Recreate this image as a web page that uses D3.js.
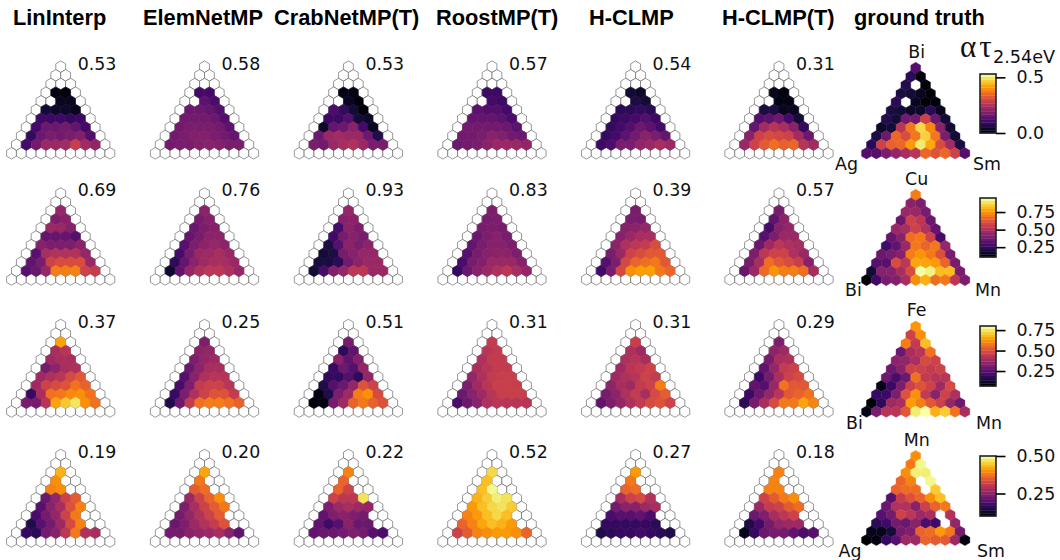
<!DOCTYPE html>
<html>
<head>
<meta charset="utf-8">
<script src="https://cdn.jsdelivr.net/npm/d3@7"></script>
<style>
  body { margin: 0; background: #fff; }
  svg { display: block; }
  .title { font-family: "Liberation Sans", sans-serif; font-weight: bold; font-size: 21.8px; }
  .score, .elem, .cbar text { font-family: "DejaVu Sans", sans-serif; font-size: 17.4px; fill: #111; }
</style>
</head>
<body>
<script>
// all cell values are alpha*tau x 100. _ = no data (white)
const _ = null;

const methods = ["LinInterp", "ElemNetMP", "CrabNetMP(T)", "RoostMP(T)", "H-CLMP", "H-CLMP(T)"];
const groundTruthTitle = "ground truth";

const scoresAgBiSm = ["0.53", "0.58", "0.53", "0.57", "0.54", "0.31"];
const scoresBiCuMn = ["0.69", "0.76", "0.93", "0.83", "0.39", "0.57"];
const scoresBiFeMn = ["0.37", "0.25", "0.51", "0.31", "0.31", "0.29"];
const scoresAgMnSm = ["0.19", "0.20", "0.22", "0.52", "0.27", "0.18"];

// predictions: inner cells of triangle rows 2..9
const agBiSmLinInterp = [[_], [2, 1], [_, 3, 3], [5, 4, 4, 3], [10, 10, 10, 9, 10], [11, 16, 16, 17, 15, 11], [9, 16, 18, 17, 18, 19, 13], [11, 17, 22, 22, 23, 28, 23, 21]];
const agBiSmElemNet = [[_], [11, 11], [_, 14, 12], [16, 16, 15, 13], [17, 17, 17, 16, 13], [17, 18, 18, 18, 17, 14], [17, 18, 19, 19, 18, 17, 15], [17, 18, 18, 19, 20, 19, 18, 18]];
const agBiSmCrabNet = [[_], [2, 2], [_, 3, 1], [12, 9, 5, 1], [10, 10, 13, 5, 4], [4, 15, 16, 20, 11, 3], [16, 22, 23, 22, 22, 16, 7], [18, 17, 22, 24, 25, 22, 18, 18]];
const agBiSmRoost = [[_], [10, 10], [_, 11, 10], [14, 13, 13, 11], [15, 15, 15, 14, 12], [17, 17, 17, 17, 16, 14], [17, 17, 18, 20, 19, 17, 16], [16, 17, 18, 20, 22, 22, 22, 21]];
const agBiSmHclmp = [[_], [5, 4], [_, 6, 5], [8, 8, 9, 8], [9, 10, 11, 13, 10], [9, 11, 13, 16, 14, 11], [9, 11, 14, 17, 20, 18, 15], [10, 12, 18, 18, 21, 22, 24, 22]];
const agBiSmHclmpT = [[_], [3, 1], [_, 2, 2], [6, 6, 3, 3], [13, 14, 16, 11, 5], [15, 23, 26, 24, 20, 9], [20, 29, 31, 30, 29, 23, 16], [22, 29, 33, 36, 34, 35, 26, 23]];

const biCuMnLinInterp = [[45], [40, 42], [46, 46, 42], [35, 35, 35, 32], [42, 40, 40, 40, 43], [32, 49, 51, 51, 51, 45], [34, 39, 57, 60, 60, 60, 46], [32, 36, 45, 71, 71, 72, 57, 55]];
const biCuMnElemNet = [[43], [39, 42], [36, 40, 42], [35, 39, 43, 43], [32, 40, 43, 45, 43], [29, 39, 46, 47, 49, 46], [24, 35, 43, 47, 49, 49, 46], [18, 34, 45, 50, 53, 53, 50, 45]];
const biCuMnCrabNet = [[45], [42, 43], [29, 43, 40], [28, 39, 42, 39], [21, 32, 43, 40, 43], [19, 21, 39, 42, 45, 45], [20, 20, 24, 38, 43, 46, 46], [19, 29, 41, 45, 53, 53, 46, 46]];
const biCuMnRoost = [[40], [39, 40], [39, 40, 39], [36, 40, 42, 39], [35, 39, 42, 42, 40], [32, 39, 42, 43, 43, 40], [30, 39, 41, 46, 46, 46, 42], [26, 36, 42, 46, 50, 53, 49, 45]];
const biCuMnHclmp = [[39], [39, 39], [42, 43, 45], [42, 46, 49, 49], [43, 50, 53, 55, 60], [39, 46, 57, 60, 63, 63], [32, 40, 59, 66, 68, 70, 63], [28, 39, 59, 74, 77, 77, 70, 66]];
const biCuMnHclmpT = [[39], [34, 43], [29, 42, 45], [32, 40, 46, 46], [36, 47, 53, 50, 49], [40, 53, 57, 57, 50, 46], [39, 49, 68, 63, 60, 56, 42], [36, 46, 67, 75, 71, 71, 68, 49]];

const biFeMnLinInterp = [[65], [40, 43], [38, 40, 40], [31, 35, 40, 41], [38, 41, 43, 49, 52], [38, 47, 49, 51, 57, 54], [20, 40, 57, 58, 61, 62, 57], [31, 31, 43, 65, 70, 75, 62, 57]];
const biFeMnElemNet = [[32], [35, 36], [32, 36, 38], [29, 35, 40, 40], [25, 34, 41, 43, 42], [23, 32, 45, 47, 47, 43], [20, 32, 41, 47, 51, 51, 45], [16, 29, 45, 57, 59, 59, 57, 54]];
const biFeMnCrabNet = [[31], [18, 27], [34, 27, 33], [20, 29, 25, 36], [19, 19, 25, 18, 36], [16, 25, 29, 36, 51, 47], [9, 16, 32, 38, 59, 62, 49], [8, 9, 31, 38, 54, 58, 54, 51]];
const biFeMnRoost = [[45], [43, 45], [41, 45, 45], [40, 43, 45, 45], [36, 41, 45, 46, 46], [32, 38, 43, 46, 46, 46], [29, 34, 38, 43, 46, 46, 46], [23, 29, 34, 41, 43, 43, 43, 43]];
const biFeMnHclmp = [[46], [41, 38], [41, 43, 40], [38, 43, 45, 47], [38, 41, 43, 47, 45], [35, 40, 38, 45, 47, 59], [31, 35, 41, 45, 40, 49, 53], [27, 32, 36, 41, 45, 49, 51, 47]];
const biFeMnHclmpT = [[32], [35, 38], [31, 40, 41], [27, 36, 45, 47], [21, 31, 40, 47, 49], [27, 25, 37, 57, 52, 52], [21, 29, 36, 43, 52, 54, 57], [18, 31, 40, 49, 58, 58, 65, 60]];

const agMnSmLinInterp = [[43], [40, _], [39, 40, _], [22, 26, 32, 35], [20, 25, 28, 34, 39], [19, 23, 26, 32, 38, _], [15, 20, 23, 27, 33, 39, _], [17, 16, 23, 25, 30, 38, 29, 28]];
const agMnSmElemNet = [[42], [38, _], [35, 37, _], [27, 32, 36, 40], [24, 28, 32, 35, 38], [23, 26, 29, 32, 35, _], [22, 24, 27, 29, 31, 34, _], [23, 23, 25, 26, 27, 28, 25, 21]];
const agMnSmCrabNet = [[39], [36, _], [36, 32, _], [32, 30, 30, 47], [24, 27, 28, 27, 26], [21, 24, 25, 24, 23, _], [21, 18, 20, 25, 22, 22, _], [21, 22, 22, 23, 24, 23, 20, 19]];
const agMnSmRoost = [[46], [44, _], [44, 49, _], [43, 45, 48, 47], [41, 44, 46, 47, 45], [39, 41, 44, 46, 44, _], [36, 39, 42, 44, 43, 41, _], [32, 35, 39, 40, 41, 41, 40, 36]];
const agMnSmHclmp = [[41], [38, _], [36, 37, _], [28, 32, 33, 29], [23, 25, 25, 27, 28], [19, 20, 20, 21, 19, _], [17, 17, 17, 17, 17, 16, _], [15, 16, 17, 17, 18, 17, 16, 15]];
const agMnSmHclmpT = [[39], [39, _], [39, 39, _], [32, 35, 38, 40], [27, 31, 32, 35, 37], [22, 24, 28, 30, 32, _], [15, 18, 23, 26, 27, 27, _], [12, 17, 22, 23, 23, 21, 19, 20]];

// ground truth: the whole triangle, rows 0..10
const agBiSmTruth = [[13], [8, 1], [7, _, 1], [6, 5, 3, 1], [8, _, 3, 1, 1], [6, 5, 4, 4, 8, 3], [7, 5, 17, 17, 29, 16, 5], [4, 5, 26, 37, 48, 39, 20, 5], [6, 16, 35, 31, 37, 47, 37, 18, 5], [8, 29, 34, 35, 41, 50, 43, 31, 23, 6], [13, 13, 18, 21, 24, 26, 35, 32, 35, 29, 13]];
const biCuMnTruth = [[71], [43, 40], [46, 46, 39], [36, 57, 53, 36], [46, 49, 57, 51, 35], [35, 42, 68, 70, 57, 29], [28, 34, 46, 70, 66, 70, 45], [36, 39, 42, 71, 75, 70, 61, 39], [32, 32, 60, 53, 78, 78, 76, 66, 39], [19, 42, 42, 49, 60, 95, 92, 82, 82, 39], [12, 28, 39, 41, 49, 74, 80, 68, 70, 53, 40]];
const biFeMnTruth = [[63], [47, 62], [59, 45, 69], [29, 40, 43, 57], [35, 36, 40, 49, 47], [29, 34, 47, 47, 45, 47], [29, 23, 29, 57, 45, 43, 43], [10, 21, 32, 47, 51, 47, 38, 49], [20, 21, 32, 51, 62, 45, 34, 47, 41], [7, 18, 38, 40, 64, 59, 52, 47, 36, 29], [10, 31, 42, 43, 52, 76, 80, 67, 71, 57, 40]];
const agMnSmTruth = [[40], [38, 49], [40, 48, 48], [36, 39, _, 49], [36, 37, 37, _, 45], [20, 31, 34, 36, 40, 44], [22, 29, 29, 25, 32, 36, 38], [20, 23, 32, 30, 27, 28, _, 29], [16, 18, 23, 22, 25, 19, 18, _, 26], [12, 12, 14, 23, 24, 36, 37, 41, 38, 23], [10, 11, 17, 20, 27, 27, 36, 35, 35, 27, 11]];

const elementsAgBiSm = ["Bi", "Ag", "Sm"];
const elementsBiCuMn = ["Cu", "Bi", "Mn"];
const elementsBiFeMn = ["Fe", "Bi", "Mn"];
const elementsAgMnSm = ["Mn", "Ag", "Sm"];

const domainAgBiSm = [0, 53];
const domainBiCuMn = [11, 95];
const domainBiFeMn = [6.7, 80];
const domainAgMnSm = [10, 50];

const ticksAgBiSm = [0, 50];
const ticksBiCuMn = [25, 50, 75];
const ticksBiFeMn = [25, 50, 75];
const ticksAgMnSm = [25, 50];

const systems = [
  { preds: [agBiSmLinInterp, agBiSmElemNet, agBiSmCrabNet, agBiSmRoost, agBiSmHclmp, agBiSmHclmpT], truth: agBiSmTruth, scores: scoresAgBiSm, elements: elementsAgBiSm, domain: domainAgBiSm, ticks: ticksAgBiSm, fmt: ".1f", top: 66.7, base: 153.3, truthTop: 68, truthBase: 153.3, barTop: 74, barBottom: 133, elemTop: 58, elemBase: 170, elemLeft: 846.5, elemRight: 987 },
  { preds: [biCuMnLinInterp, biCuMnElemNet, biCuMnCrabNet, biCuMnRoost, biCuMnHclmp, biCuMnHclmpT], truth: biCuMnTruth, scores: scoresBiCuMn, elements: elementsBiCuMn, domain: domainBiCuMn, ticks: ticksBiCuMn, fmt: ".2f", top: 193.5, base: 279.5, truthTop: 195, truthBase: 280, barTop: 198, barBottom: 257, elemTop: 185, elemBase: 296, elemLeft: 853.5, elemRight: 988 },
  { preds: [biFeMnLinInterp, biFeMnElemNet, biFeMnCrabNet, biFeMnRoost, biFeMnHclmp, biFeMnHclmpT], truth: biFeMnTruth, scores: scoresBiFeMn, elements: elementsBiFeMn, domain: domainBiFeMn, ticks: ticksBiFeMn, fmt: ".2f", top: 325, base: 411.5, truthTop: 326.7, truthBase: 411.7, barTop: 326, barBottom: 386, elemTop: 316, elemBase: 429, elemLeft: 854.5, elemRight: 989 },
  { preds: [agMnSmLinInterp, agMnSmElemNet, agMnSmCrabNet, agMnSmRoost, agMnSmHclmp, agMnSmHclmpT], truth: agMnSmTruth, scores: scoresAgMnSm, elements: elementsAgMnSm, domain: domainAgMnSm, ticks: ticksAgMnSm, fmt: ".2f", top: 455, base: 541.5, truthTop: 456, truthBase: 540, barTop: 456, barBottom: 516, elemTop: 446, elemBase: 557, elemLeft: 850, elemRight: 991 },
];

const width = 1060;
const height = 560;
const columnApex = [60.7, 204.5, 348.4, 492, 635.6, 779];
const truthApex = 915.7;
const halfBase = 49.2;
const titleX = [13, 143, 274, 436, 589, 722];

const svg = d3.select("body").append("svg").attr("width", width).attr("height", height);

svg.selectAll("text.title")
  .data(methods.concat([groundTruthTitle]))
  .enter()
  .append("text")
  .attr("class", "title")
  .attr("x", (d, i) => (i < 6 ? titleX[i] : 854))
  .attr("y", 25)
  .text((d) => d);

function hexPath(cx, cy, halfWidth, ry) {
  const pts = [
    [cx, cy - ry],
    [cx + halfWidth, cy - ry / 2],
    [cx + halfWidth, cy + ry / 2],
    [cx, cy + ry],
    [cx - halfWidth, cy + ry / 2],
    [cx - halfWidth, cy - ry / 2],
  ];
  return d3.line()(pts) + "Z";
}

// flatten the rows into cells; firstRow says which triangle row the data starts on
function cellsFrom(rows, firstRow, inset) {
  const cells = [];
  rows.forEach((values, i) => {
    values.forEach((v, j) => {
      cells.push({ row: i + firstRow, col: j + inset, v });
    });
  });
  return cells;
}

function drawTriangle(g, apex, top, base, rows, colour, isTruth) {
  const x = d3.scaleLinear().domain([-5, 5]).range([apex - halfBase, apex + halfBase]);
  const y = d3.scaleLinear().domain([0, 10]).range([top, base]);
  const halfWidth = (x(1) - x(0)) / 2;
  const ry = (y(1) - y(0)) * 2 / 3;
  const path = (d) => hexPath(x(d.col - d.row / 2), y(d.row), halfWidth, ry);

  if (!isTruth) {
    const all = [];
    d3.range(11).forEach((r) => d3.range(r + 1).forEach((c) => all.push({ row: r, col: c })));
    g.append("g")
      .selectAll("path")
      .data(all)
      .enter()
      .append("path")
      .attr("d", path)
      .attr("fill", "#fff")
      .attr("stroke", "#555")
      .attr("stroke-width", 0.6);
  }

  const cells = isTruth ? cellsFrom(rows, 0, 0) : cellsFrom(rows, 2, 1);
  g.append("g")
    .selectAll("path")
    .data(cells.filter((d) => d.v !== null))
    .enter()
    .append("path")
    .attr("d", path)
    .attr("fill", (d) => colour(d.v))
    .attr("stroke", (d) => colour(d.v))
    .attr("stroke-width", 0.4);
}

systems.forEach((sys) => {
  const colour = d3.scaleSequential(d3.interpolateInferno).domain(sys.domain);
  const g = svg.append("g");

  sys.preds.forEach((rows, i) => {
    drawTriangle(g, columnApex[i], sys.top, sys.base, rows, colour, false);
    g.append("text")
      .attr("class", "score")
      .attr("x", columnApex[i] + 17)
      .attr("y", sys.top + 2.8)
      .text(sys.scores[i]);
  });

  drawTriangle(g, truthApex, sys.truthTop, sys.truthBase, sys.truth, colour, true);

  g.append("text").attr("class", "elem").attr("x", truthApex + 1).attr("y", sys.elemTop)
    .attr("text-anchor", "middle").text(sys.elements[0]);
  g.append("text").attr("class", "elem").attr("x", sys.elemLeft).attr("y", sys.elemBase)
    .attr("text-anchor", "middle").text(sys.elements[1]);
  g.append("text").attr("class", "elem").attr("x", sys.elemRight).attr("y", sys.elemBase)
    .attr("text-anchor", "middle").text(sys.elements[2]);

  // colour bar
  const barX = 980;
  const barW = 16;
  const barScale = d3.scaleLinear().domain(sys.domain).range([sys.barBottom, sys.barTop]);
  const steps = d3.range(22);
  const stepH = (sys.barBottom - sys.barTop) / steps.length;
  const bar = g.append("g").attr("class", "cbar");
  bar.selectAll("rect")
    .data(steps)
    .enter()
    .append("rect")
    .attr("x", barX)
    .attr("y", (d) => sys.barBottom - (d + 1) * stepH)
    .attr("width", barW)
    .attr("height", stepH + 0.3)
    .attr("fill", (d) => d3.interpolateInferno((d + 0.5) / steps.length));
  bar.append("rect")
    .attr("x", barX)
    .attr("y", sys.barTop)
    .attr("width", barW)
    .attr("height", sys.barBottom - sys.barTop)
    .attr("fill", "none")
    .attr("stroke", "#222")
    .attr("stroke-width", 1.6);

  const axis = d3.axisRight(barScale)
    .tickValues(sys.ticks)
    .tickSize(9.5)
    .tickPadding(11)
    .tickFormat((d) => d3.format(sys.fmt)(d / 100));
  const axisG = bar.append("g").attr("transform", `translate(${barX + barW},0)`).call(axis);
  axisG.select(".domain").remove();
  axisG.selectAll("line").attr("stroke", "#000").attr("stroke-width", 1.6);
  axisG.selectAll("text").attr("font-family", null).attr("font-size", null);
});

// colour bar quantity, only at the top right
svg.append("text")
  .attr("x", 960)
  .attr("y", 57)
  .attr("font-family", "'Liberation Serif', serif")
  .attr("font-size", 31)
  .attr("letter-spacing", 3)
  .attr("fill", "#111")
  .text("ατ");
svg.append("text")
  .attr("x", 993)
  .attr("y", 63)
  .attr("font-family", "'DejaVu Sans', sans-serif")
  .attr("font-size", 17.6)
  .attr("fill", "#111")
  .text("2.54eV");
</script>
</body>
</html>
